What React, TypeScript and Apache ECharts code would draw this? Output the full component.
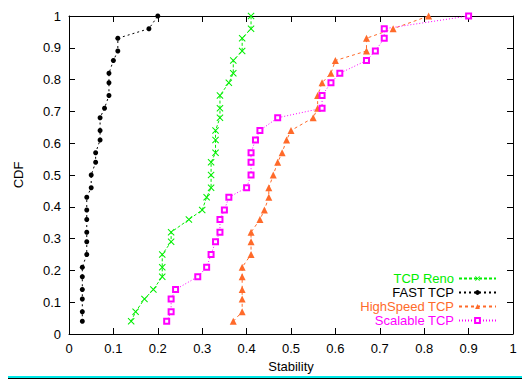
import React, { useEffect, useRef } from "react";
import * as echarts from "echarts";

const cdfLevels = [0.04, 0.07, 0.11, 0.14, 0.18, 0.21, 0.25, 0.29, 0.32, 0.36, 0.39, 0.43, 0.46, 0.50, 0.54, 0.57, 0.61, 0.64, 0.68, 0.71, 0.75, 0.79, 0.82, 0.86, 0.89, 0.93, 0.96, 1.0];

const renoX = [0.14, 0.15, 0.17, 0.19, 0.21, 0.21, 0.21, 0.23, 0.23, 0.27, 0.30, 0.31, 0.32, 0.32, 0.32, 0.33, 0.33, 0.33, 0.34, 0.34, 0.34, 0.36, 0.37, 0.37, 0.39, 0.39, 0.41, 0.41];
const fastX = [0.03, 0.03, 0.03, 0.03, 0.03, 0.03, 0.04, 0.04, 0.04, 0.04, 0.04, 0.04, 0.05, 0.05, 0.06, 0.06, 0.07, 0.07, 0.07, 0.08, 0.09, 0.09, 0.09, 0.10, 0.11, 0.11, 0.18, 0.20];
const highSpeedX = [0.37, 0.39, 0.39, 0.39, 0.39, 0.39, 0.41, 0.41, 0.41, 0.43, 0.44, 0.45, 0.45, 0.46, 0.47, 0.48, 0.49, 0.50, 0.55, 0.56, 0.56, 0.57, 0.59, 0.60, 0.67, 0.67, 0.73, 0.81];
const scalableX = [0.22, 0.23, 0.23, 0.24, 0.29, 0.31, 0.32, 0.33, 0.34, 0.34, 0.35, 0.36, 0.40, 0.41, 0.41, 0.41, 0.42, 0.43, 0.47, 0.57, 0.57, 0.59, 0.61, 0.67, 0.69, 0.71, 0.71, 0.90];

const seriesNames = ["TCP Reno", "FAST TCP", "HighSpeed TCP", "Scalable TCP"];
const xTicks = ["0", "0.1", "0.2", "0.3", "0.4", "0.5", "0.6", "0.7", "0.8", "0.9", "1"];

const FONT = "'Liberation Sans', Arial, sans-serif";
const GREEN = "#00ee00";
const BLACK = "#000000";
const ORANGE = "#ff6a2a";
const MAGENTA = "#ff00ff";

const xPath = "path://M0,1L1,0L5,4L9,0L10,1L6,5L10,9L9,10L5,6L1,10L0,9L4,5Z";

export default function App() {
  const ref = useRef<HTMLDivElement>(null);
  useEffect(() => {
    if (!ref.current) return;
    const chart = echarts.init(ref.current, null, { renderer: "svg" });
    const pairs = (xs: number[]) => xs.map((x, i) => [x, cdfLevels[i]]);
    const tickLabel = (v: number) => xTicks[Math.round(v * 10)] ?? String(v);
    const baseAxis = {
      type: "value" as const,
      min: 0,
      max: 1,
      interval: 0.1,
      axisLine: { show: true, onZero: false, lineStyle: { color: "#000", width: 1 } },
      axisTick: { show: true, inside: true, length: 6, lineStyle: { color: "#000" } },
      splitLine: { show: false },
    };
    const legendRow = (name: string, color: string, top: number) => ({
      data: [name],
      right: 34,
      top,
      padding: 0,
      align: "right" as const,
      itemWidth: 37,
      itemHeight: 6,
      textStyle: { color, fontSize: 13, fontFamily: FONT, lineHeight: 12 },
    });
    chart.setOption({
      animation: false,
      backgroundColor: "#ffffff",
      grid: { left: 69, right: 18, top: 16, bottom: 45, containLabel: false },
      xAxis: [
        {
          ...baseAxis,
          position: "bottom",
          name: "Stability",
          nameLocation: "middle",
          nameGap: 25,
          nameTextStyle: { color: "#000", fontSize: 13, fontFamily: FONT },
          axisLabel: { color: "#000", fontSize: 13, fontFamily: FONT, margin: 8, formatter: tickLabel },
        },
        { ...baseAxis, position: "top", axisLabel: { show: false } },
      ],
      yAxis: [
        {
          ...baseAxis,
          position: "left",
          name: "CDF",
          nameLocation: "middle",
          nameGap: 44,
          nameTextStyle: { color: "#000", fontSize: 13, fontFamily: FONT },
          axisLabel: { color: "#000", fontSize: 13, fontFamily: FONT, margin: 8, formatter: tickLabel },
        },
        { ...baseAxis, position: "right", axisLabel: { show: false } },
      ],
      legend: [
        legendRow(seriesNames[0], GREEN, 272),
        legendRow(seriesNames[1], BLACK, 286),
        legendRow(seriesNames[2], ORANGE, 300),
        legendRow(seriesNames[3], MAGENTA, 314),
      ],
      series: [
        {
          type: "line",
          name: seriesNames[0],
          data: pairs(renoX),
          symbol: xPath,
          symbolSize: 7,
          itemStyle: { color: GREEN },
          lineStyle: { color: GREEN, width: 1, type: [3, 2] },
        },
        {
          type: "line",
          name: seriesNames[1],
          data: pairs(fastX),
          symbol: "circle",
          symbolSize: 5,
          itemStyle: { color: BLACK },
          lineStyle: { color: BLACK, width: 1, type: [2, 3] },
        },
        {
          type: "line",
          name: seriesNames[2],
          data: pairs(highSpeedX),
          symbol: "triangle",
          symbolSize: 7,
          itemStyle: { color: ORANGE },
          lineStyle: { color: ORANGE, width: 1, type: [3, 3] },
        },
        {
          type: "line",
          name: seriesNames[3],
          data: pairs(scalableX),
          symbol: "emptyRect",
          symbolSize: 5,
          itemStyle: { color: MAGENTA, borderWidth: 1 },
          lineStyle: { color: MAGENTA, width: 1, type: [1, 2] },
        },
      ],
      graphic: [
        { type: "rect", shape: { x: 8, y: 376, width: 514, height: 2 }, style: { fill: "#00e8e8" }, silent: true },
        { type: "rect", shape: { x: 8, y: 378, width: 514, height: 1 }, style: { fill: "#000" }, silent: true },
      ],
    });
    return () => chart.dispose();
  }, []);
  return (
    <div
      ref={ref}
      style={{ position: "fixed", left: 0, top: 0, width: 531, height: 379, background: "#fff" }}
    />
  );
}
